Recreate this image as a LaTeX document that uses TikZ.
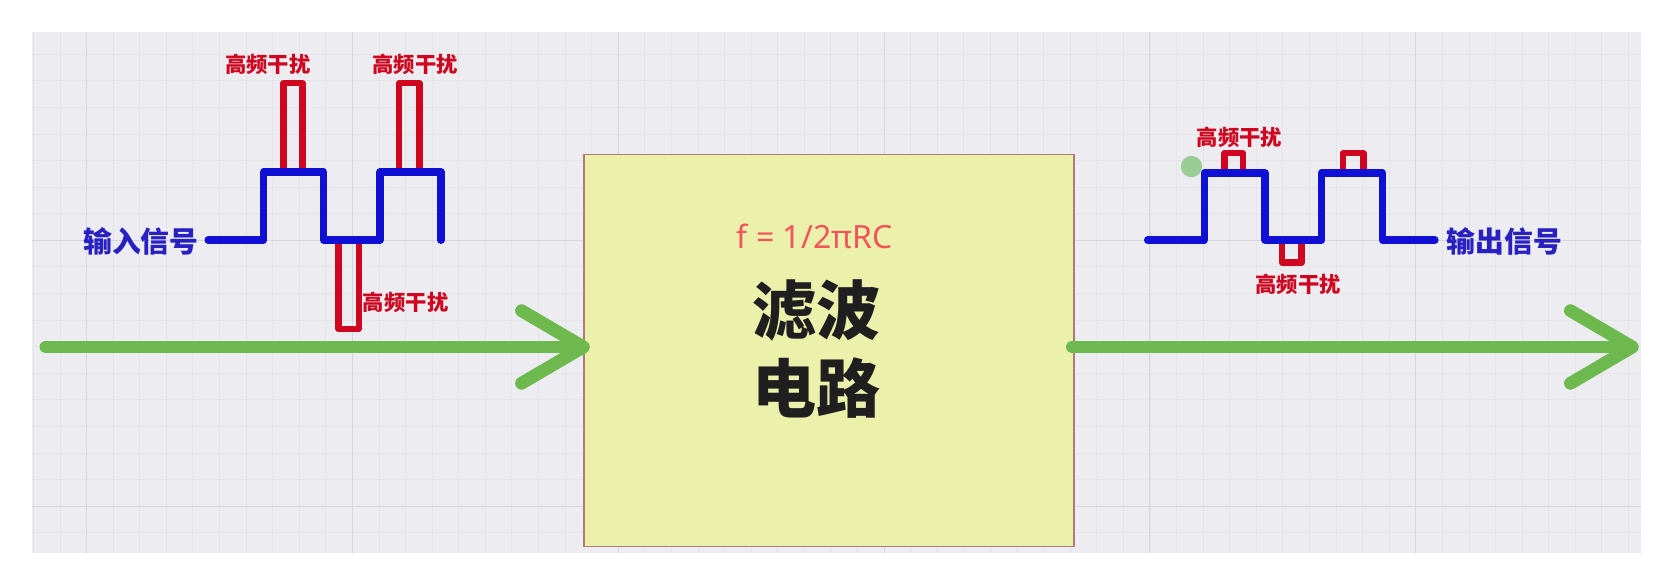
\documentclass[tikz,border=0pt]{standalone}
\usepackage{fontspec}
\setmainfont{Noto Sans}
\newfontfamily\cjk{Noto Sans CJK SC}
\usetikzlibrary{arrows.meta}

\definecolor{canvasbg}{HTML}{EDECF0}
\definecolor{gridminor}{HTML}{E5E4E9}
\definecolor{gridmajor}{HTML}{D7D6DB}
\definecolor{sigblue}{HTML}{1010D4}
\definecolor{sigtext}{HTML}{2820C2}
\definecolor{noisered}{HTML}{CE0620}
\definecolor{flowgreen}{HTML}{6DB94E}
\definecolor{boxfill}{HTML}{EBF0AB}
\definecolor{boxedge}{HTML}{B07A7A}
\definecolor{formula}{HTML}{F2545B}
\definecolor{cursorgreen}{HTML}{8CC887}

\begin{document}
\begin{tikzpicture}[x=0.5pt,y=-0.5pt,
    sig/.style={line width=3.5pt,color=sigblue,line cap=round,line join=round},
    noise/.style={line width=3pt,color=noisered,line join=round},
    flow/.style={line width=6pt,color=flowgreen,line cap=round,
        -{Straight Barb[length=29pt,width=34pt,round]}},
    noiselabel/.style={font=\cjk\bfseries\fontsize{10}{12}\selectfont,
        text=noisered,inner sep=0pt},
    siglabel/.style={font=\cjk\bfseries\fontsize{13.5}{16}\selectfont,
        text=sigtext,inner sep=0pt},
    filterbox/.style={draw=boxedge,line width=0.5pt,fill=boxfill,
        minimum width=229.5pt,minimum height=183.5pt,inner sep=0pt}]
    \useasboundingbox (0,0) rectangle (1568,548);
    \fill[white] (0,0) rectangle (1568,548);

    % canvas with grid
    \fill[canvasbg] (30,30) rectangle (1537,518);
    \begin{scope}
        \clip (30,30) rectangle (1537,518);
        \foreach \x in {31.2,56.1,...,1537}
            \draw[gridminor,line width=0.3pt] (\x,30) -- (\x,518);
        \foreach \y in {50.7,75.6,...,518}
            \draw[gridminor,line width=0.3pt] (30,\y) -- (1537,\y);
        \foreach \x in {81,330,579,828,1077,1326}
            \draw[gridmajor,line width=0.4pt] (\x,30) -- (\x,518);
        \foreach \y in {225,474}
            \draw[gridmajor,line width=0.4pt] (30,\y) -- (1537,\y);
    \end{scope}

    % filter block
    \node[filterbox] (filt) at (776.5,328.5) {};
    \node[font=\fontsize{15}{18}\selectfont,text=formula,inner sep=0pt]
        (cutoff) at (763,221.5) {f = 1/2πRC};
    \node[font=\cjk\bfseries\fontsize{30}{36.5}\selectfont,align=center,inner sep=0pt,
        text=black!88] (filtname) at (765,326.5) {滤波\\电路};

    % input signal with noise spikes
    \draw[noise] (265.5,161) -- (265.5,78) -- (283.5,78) -- (283.5,161);
    \draw[noise] (374,161) -- (374,78) -- (393,78) -- (393,161);
    \draw[noise] (317,225) -- (317,308) -- (336,308) -- (336,225);
    \draw[sig] (195,225) -- (247,225) -- (247,161) -- (303,161) -- (303,225)
        -- (356,225) -- (356,161) -- (413,161) -- (413,225);
    \node[siglabel] (inlabel) at (132,226) {输入信号};
    \node[noiselabel] (spikeA) at (251,60) {高频干扰};
    \node[noiselabel] (spikeB) at (389,60) {高频干扰};
    \node[noiselabel] (spikeC) at (380,283) {高频干扰};

    % output signal with small residue
    \draw[noise] (1147,162) -- (1147,143.5) -- (1164,143.5) -- (1164,162);
    \draw[noise] (1258,162) -- (1258,143.5) -- (1277,143.5) -- (1277,162);
    \draw[noise] (1201,225) -- (1201,246) -- (1219,246) -- (1219,225);
    \draw[sig] (1075,225) -- (1128,225) -- (1128,162) -- (1185,162) -- (1185,225)
        -- (1238,225) -- (1238,162) -- (1295,162) -- (1295,225) -- (1344,225);
    \node[siglabel] (outlabel) at (1409,226) {输出信号};
    \node[noiselabel] (residueA) at (1161,129) {高频干扰};
    \node[noiselabel] (residueB) at (1216,266) {高频干扰};
    \fill[cursorgreen,opacity=0.85] (1116,156) circle (5pt);

    % signal flow
    \coordinate (inlet) at (43,325);
    \coordinate (outlet) at (1535,325);
    \draw[flow] (inlet) -- ([xshift=3pt]inlet -| filt.west);
    \draw[flow] ([xshift=-1pt]filt.east |- outlet) -- (outlet);

\end{tikzpicture}
\end{document}
